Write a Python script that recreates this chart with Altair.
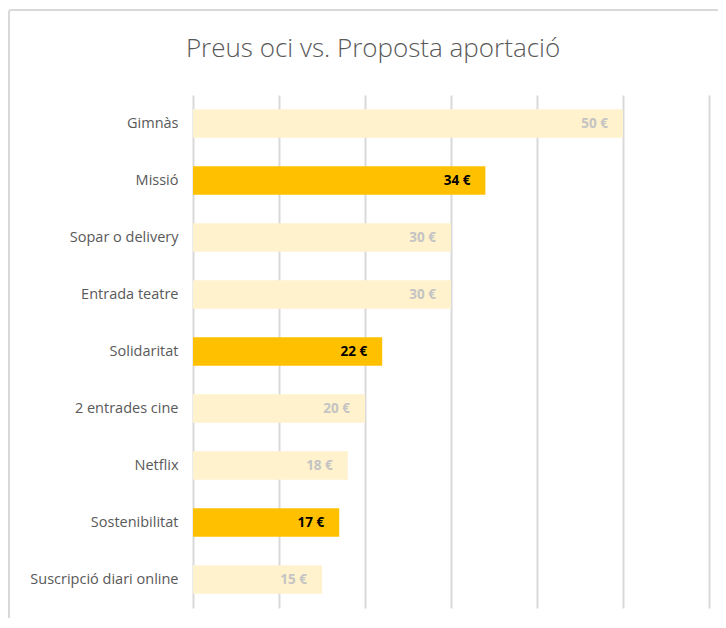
import altair as alt
import pandas as pd

categories = ["Gimnàs", "Missió", "Sopar o delivery", "Entrada teatre", "Solidaritat",
              "2 entrades cine", "Netflix", "Sostenibilitat", "Suscripció diari online"]
values = [50, 34, 30, 30, 22, 20, 18, 17, 15]
kinds = ["oci", "proposta", "oci", "oci", "proposta", "oci", "oci", "proposta", "oci"]
title_text = "Preus oci vs. Proposta aportació"

df = pd.DataFrame({"cat": categories, "val": values, "kind": kinds})

FONT = "Open Sans"

y = alt.Y("cat:N", sort=categories, title=None,
          scale=alt.Scale(paddingInner=0.5, paddingOuter=0.25),
          axis=alt.Axis(domain=False, ticks=False, grid=False, labelPadding=15, labelFontSize=14.5,
                        labelColor="#595959", labelFont=FONT))
x = alt.X("val:Q", title=None,
          scale=alt.Scale(domain=[0, 60], nice=False),
          axis=alt.Axis(values=[0, 10, 20, 30, 40, 50, 60], labels=False, ticks=False,
                        domain=False, grid=True, gridColor="#d9d9d9", gridWidth=2))

base = alt.Chart(df)

bars = base.mark_bar().encode(
    y=y, x=x,
    color=alt.condition(alt.datum.kind == "proposta", alt.value("#FFC000"), alt.value("#FFF2CC")),
)

labels = base.transform_calculate(
    label="format(datum.val, 'd') + ' €'"
).mark_text(align="right", baseline="middle", dx=-15, fontWeight="bold", fontSize=13.5, font=FONT).encode(
    y=alt.Y("cat:N", sort=categories),
    x=alt.X("val:Q"),
    text="label:N",
    color=alt.condition(alt.datum.kind == "proposta", alt.value("#000000"), alt.value("#c4c4c4")),
)

one = pd.DataFrame({"t": [title_text]})
border = alt.Chart(one).mark_rect(fill="transparent", stroke="#d9d9d9", strokeWidth=2,
                                  cornerRadius=2).encode(
    x=alt.value(-184), x2=alt.value(600), y=alt.value(-85), y2=alt.value(600))

title = alt.Chart(one).mark_text(font=FONT, fontSize=26, fontWeight=300, color="#595959",
                                 align="center", baseline="middle").encode(
    x=alt.value(180), y=alt.value(-46), text="t:N")

chart = alt.layer(border, bars, labels, title).properties(
    width=516, height=513,
    background="white",
    autosize=alt.AutoSizeParams(type="none"),
    padding={"left": 185, "top": 87, "right": 9, "bottom": 10},
).configure_view(strokeWidth=0).configure_axis(domain=False)

chart.save("out.html", embed_options={"renderer": "svg", "actions": False})
